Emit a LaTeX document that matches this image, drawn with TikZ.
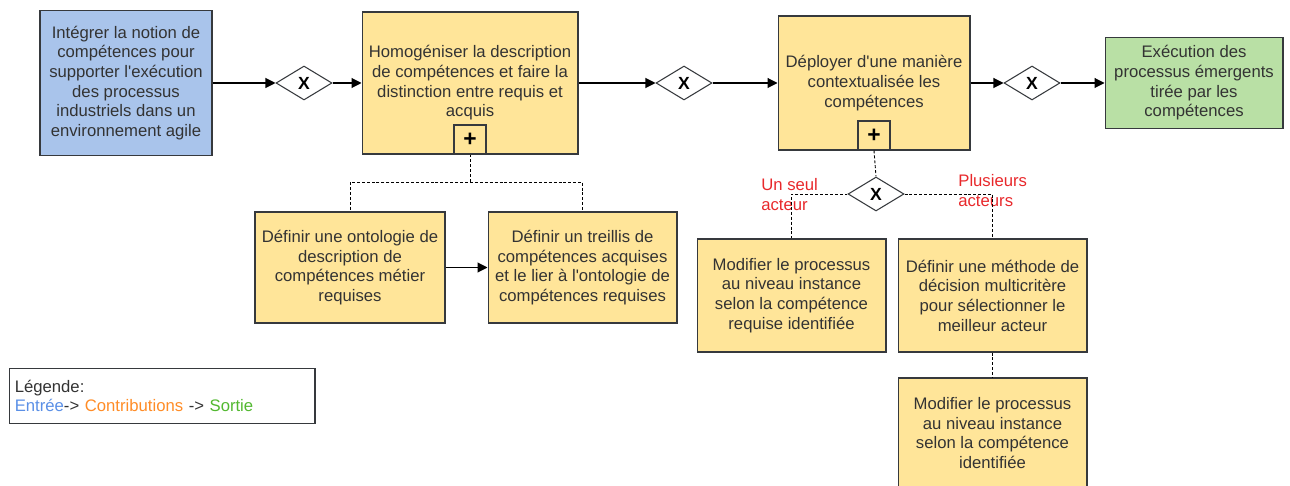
\documentclass[tikz,border=0pt]{standalone}
\usepackage{fontspec}
\setmainfont{Liberation Sans}
\usetikzlibrary{shapes.geometric,arrows.meta,positioning}

\definecolor{bleuIn}{HTML}{A9C4EB}
\definecolor{jaune}{HTML}{FFE599}
\definecolor{vertOut}{HTML}{B9E0A5}
\definecolor{contour}{HTML}{36393D}
\definecolor{texte}{HTML}{333333}
\definecolor{rouge}{HTML}{E8282B}
\definecolor{legBleu}{HTML}{5A8FE6}
\definecolor{legOrange}{HTML}{FF8C26}
\definecolor{legVert}{HTML}{52B830}

\tikzset{
  tache/.style={draw=contour, line width=0.6pt, text=texte, align=center,
    inner sep=2pt, font=\fontsize{9.5}{11.2}\selectfont},
  porte/.style={diamond, draw=contour, fill=white, line width=0.6pt,
    minimum width=1.12cm, minimum height=0.68cm, inner sep=0pt,
    font=\bfseries\fontsize{10}{10}\selectfont},
  sousproc/.style={draw=contour, line width=0.6pt, minimum width=0.64cm,
    minimum height=0.58cm, inner sep=0pt, anchor=south,
    font=\bfseries\fontsize{13}{13}\selectfont},
  flux/.style={-{Triangle[length=2mm,width=2mm]}, line width=0.6pt},
  pointille/.style={dash pattern=on 1.7pt off 1.1pt, line width=0.5pt},
  etiq/.style={text=rouge, align=left, inner sep=0pt,
    font=\fontsize{9.5}{11.2}\selectfont}
}

\begin{document}
\begin{tikzpicture}[x=0.02cm, y=-0.02cm]

    \useasboundingbox (0,0) rectangle (1290,486);

    % ligne principale
    \node[tache, fill=bleuIn, minimum width=3.44cm, minimum height=2.9cm] (entree) at (126,83)
        {Intégrer la notion de\\compétences pour\\supporter l\textquotesingle exécution\\des processus\\industriels dans un\\environnement agile};
    \node[porte] (g1) at (304,83) {X};
    \node[tache, fill=jaune, minimum width=4.32cm, minimum height=2.84cm] (homog) at (470,83)
        {Homogéniser la description\\de compétences et faire la\\distinction entre requis et\\acquis};
    \node[sousproc] (hplus) at (homog.south) {+};
    \node[porte] (g2) at (684,83) {X};
    \node[tache, fill=jaune, minimum width=3.84cm, minimum height=2.68cm] (deploy) at (874,83)
        {Déployer d\textquotesingle une manière\\contextualisée les\\compétences};
    \node[sousproc] (dplus) at (deploy.south) {+};
    \node[porte] (g3) at (1032,83) {X};
    \node[tache, fill=vertOut, minimum width=3.56cm, minimum height=1.82cm] (sortie) at (1194,83)
        {Exécution des\\processus émergents\\tirée par les\\compétences};

    % sous-processus 1
    \coordinate (fourche) at (470,182);
    \node[tache, fill=jaune, minimum width=3.8cm, minimum height=2.22cm] (onto) at (350,267.5)
        {Définir une ontologie de\\description de\\compétences métier\\requises};
    \node[tache, fill=jaune, minimum width=3.78cm, minimum height=2.22cm] (treil) at (582.5,267.5)
        {Définir un treillis de\\compétences acquises\\et le lier à l\textquotesingle ontologie de\\compétences requises};

    % sous-processus 2
    \node[porte] (g4) at (876,194) {X};
    \node[tache, fill=jaune, minimum width=3.78cm, minimum height=2.26cm] (modif) at (791.5,295.5)
        {Modifier le processus\\au niveau instance\\selon la compétence\\requise identifiée};
    \node[tache, fill=jaune, minimum width=3.78cm, minimum height=2.26cm] (methode) at (992.5,295.5)
        {Définir une méthode de\\décision multicritère\\pour sélectionner le\\meilleur acteur};
    \node[tache, fill=jaune, minimum width=3.78cm, minimum height=2.2cm] (modifb) at (992.5,433)
        {Modifier le processus\\au niveau instance\\selon la compétence\\identifiée};
    \node[etiq, anchor=north west] (seul) at (761,178) {Un seul\\acteur};
    \node[etiq, anchor=north west] (plusieurs) at (958,174) {Plusieurs\\acteurs};

    \draw[flux] (entree.east) -- (g1.west);
    \draw[flux] (g1.east) -- (homog.west);
    \draw[flux] (homog.east) -- (g2.west);
    \draw[flux] (g2.east) -- (deploy.west);
    \draw[flux] (deploy.east) -- (g3.west);
    \draw[flux] (g3.east) -- (sortie.west);
    \draw[flux] (onto.east) -- (treil.west);

    \draw[pointille] (hplus.south) -- (fourche) -| (onto.north);
    \draw[pointille] (fourche) -| (treil.north);
    \draw[pointille] (dplus.south) -- (g4.north);
    \draw[pointille] (g4.west) -| (modif.north);
    \draw[pointille] (g4.east) -| (methode.north);
    \draw[pointille] (methode.south) -- (modifb.north);

    % legende
    \node[draw=contour, line width=0.6pt, minimum width=6.08cm, minimum height=1.1cm,
          text width=5.9cm, align=left, inner sep=3pt, anchor=north west, text=texte,
          font=\fontsize{9.5}{11.2}\selectfont] (legende) at (9,368)
        {Légende:\\\textcolor{legBleu}{Entrée}-> \textcolor{legOrange}{Contributions} -> \textcolor{legVert}{Sortie}};
\end{tikzpicture}
\end{document}
